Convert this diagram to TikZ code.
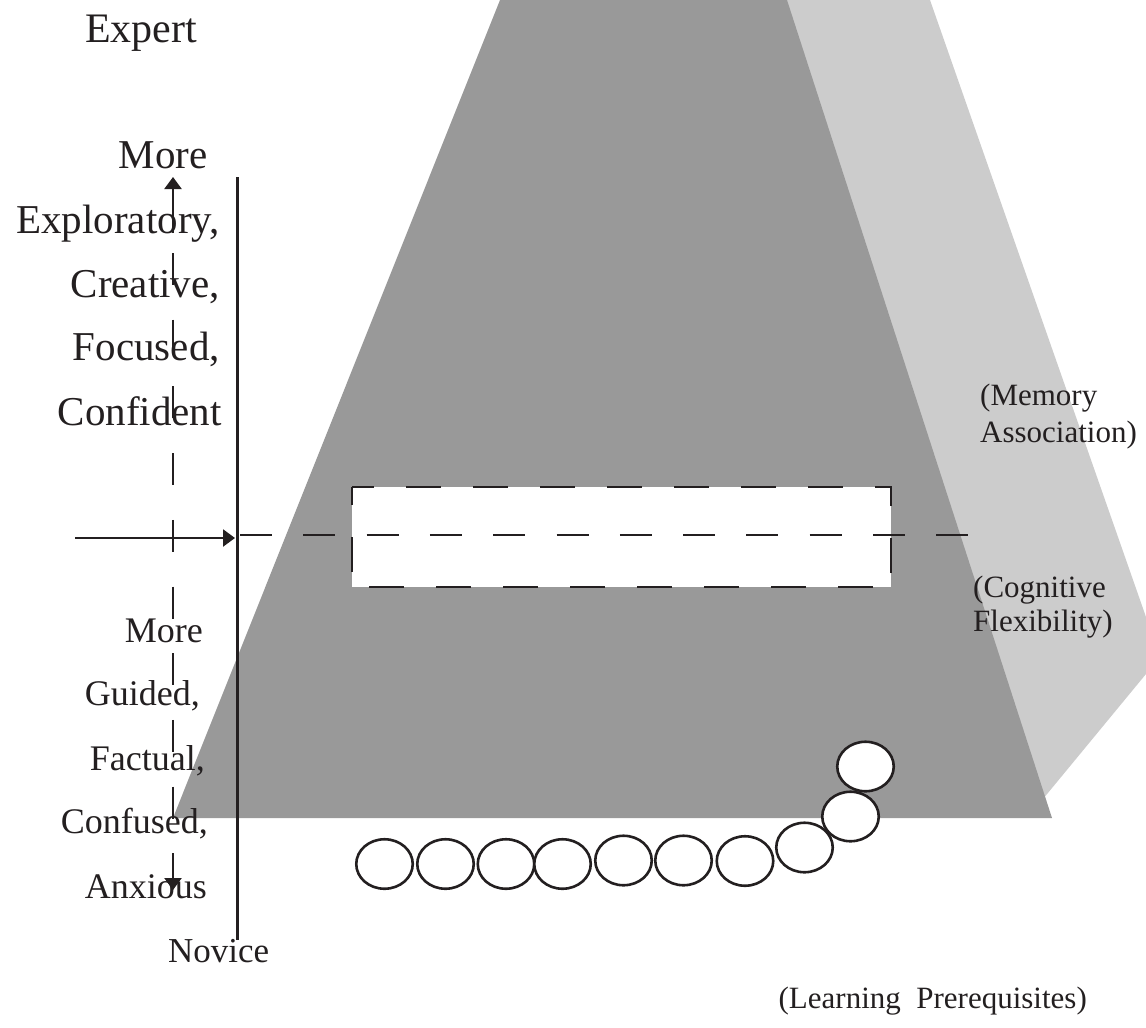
\documentclass[tikz,border=0pt]{standalone}
\usepackage{fontspec}
\setmainfont{Liberation Serif}
\usetikzlibrary{arrows.meta,shapes.geometric}
\definecolor{ink}{HTML}{231F20}
\definecolor{darkgrey}{HTML}{999999}
\definecolor{lightgrey}{HTML}{CCCCCC}
\begin{document}
\begin{tikzpicture}[x=1pt,y=-1pt,
  txtbig/.style={text=ink, inner sep=0pt, font=\fontsize{41}{41}\selectfont},
  txtmid/.style={text=ink, inner sep=0pt, font=\fontsize{36}{36}\selectfont},
  txtsmall/.style={text=ink, inner sep=0pt, font=\fontsize{31}{31}\selectfont},
  axisline/.style={draw=ink, line width=2.3pt},
  tipstyle/.style={-{Triangle[length=12pt,width=17pt]}},
  dashline/.style={draw=ink, line width=2.8pt, dash pattern=on 32pt off 31.3pt},
  bead/.style={ellipse, draw=ink, fill=white, line width=2.6pt, minimum width=56.5pt, minimum height=49.5pt, inner sep=0pt}
]
\useasboundingbox (0,0) rectangle (1146,1028);
\begin{scope}
\clip (0,0) rectangle (1146,1028);
\fill[lightgrey] (700,0) -- (930,0) -- (1160,657) -- (1038,805) -- (900,805) -- cycle;
\fill[darkgrey] (500,0) -- (787,0) -- (1052,818) -- (173,818) -- cycle;
\end{scope}

% dashed box
\draw[draw=ink, fill=white, line width=2.8pt, dash pattern=on 35pt off 32pt, dash phase=17pt] (352,487) rectangle (891,587);

% coordinates
\coordinate (axtop) at (237.5,177);
\coordinate (axbot) at (237.5,940);
\coordinate (hstart) at (75,538);
\coordinate (hend) at (235,538);
\coordinate (dstart) at (240,535);
\coordinate (dend) at (968,535);
\coordinate (vtopS) at (173,233);
\coordinate (vtopE) at (173,177);
\coordinate (vdS) at (173,253);
\coordinate (vdE) at (173,890);

\draw[axisline] (axtop) -- (axbot);
\draw[axisline, tipstyle] (hstart) -- (hend);
\draw[dashline] (dstart) -- (dend);
\draw[axisline, tipstyle] (vtopS) -- (vtopE);
\draw[axisline, dash pattern=on 32pt off 34.7pt, tipstyle] (vdS) -- (vdE);

% texts
\node[txtbig, anchor=base west, font=\fontsize{42}{42}\selectfont] (expert) at (85,42) {Expert};
\node[txtbig, anchor=base] (more1) at (163,168) {More};
\node[txtbig, anchor=base east] (explo) at (220,233) {Exploratory,};
\node[txtbig, anchor=base east] (creat) at (220,297) {Creative,};
\node[txtbig, anchor=base east] (focus) at (220,360) {Focused,};
\node[txtbig, anchor=base east] (confi) at (222,425) {Confident};

\node[txtmid, anchor=base east] (more2) at (203,642) {More};
\node[txtmid, anchor=base east] (guided) at (200,705) {Guided,};
\node[txtmid, anchor=base east] (factual) at (205,770) {Factual,};
\node[txtmid, anchor=base east] (confused) at (208,833) {Confused,};
\node[txtmid, anchor=base east] (anxious) at (207,898) {Anxious};
\node[txtmid, anchor=base west, font=\fontsize{35}{35}\selectfont] (novice) at (168,962) {Novice};

\node[txtsmall, anchor=base west] (mem1) at (980,405) {(Memory};
\node[txtsmall, anchor=base west] (mem2) at (980,442) {Association)};
\node[txtsmall, anchor=base west] (cog1) at (973,597) {(Cognitive};
\node[txtsmall, anchor=base west] (cog2) at (973,631) {Flexibility)};
\node[txtsmall, anchor=base east] (learn) at (1087,1008) {(Learning\ \ Prerequisites)};

% beads
\node[bead] (c1) at (384.5,864) {};
\node[bead] (c2) at (445.5,864) {};
\node[bead] (c3) at (506,864) {};
\node[bead] (c4) at (562.5,864) {};
\node[bead] (c5) at (623.5,860.5) {};
\node[bead] (c6) at (683.5,860.5) {};
\node[bead] (c7) at (745,861) {};
\node[bead] (c8) at (804.5,847.5) {};
\node[bead] (c9) at (850.5,816.5) {};
\node[bead] (c10) at (865.5,766.5) {};
\end{tikzpicture}
\end{document}
